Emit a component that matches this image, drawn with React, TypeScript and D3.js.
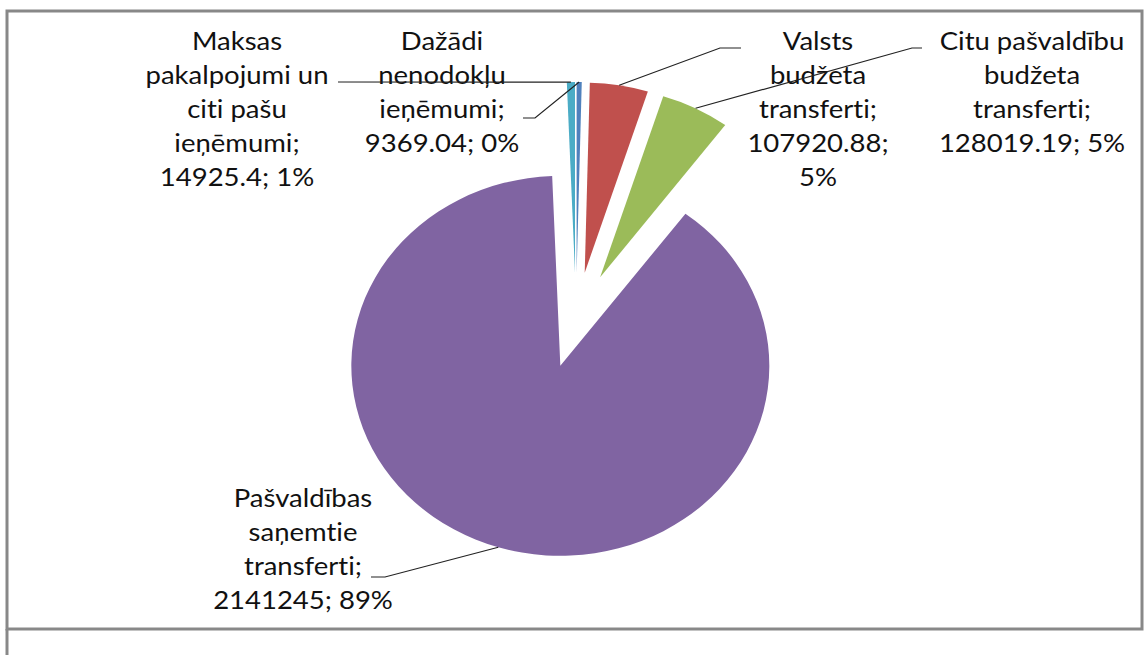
import React from "react";
import * as d3 from "d3";

// slice order follows the source workbook (Excel starts at 12 o'clock, clockwise)
const categories = [
  "Dažādi nenodokļu ieņēmumi",
  "Valsts budžeta transferti",
  "Citu pašvaldību budžeta transferti",
  "Pašvaldības saņemtie transferti",
  "Maksas pakalpojumi un citi pašu ieņēmumi",
];
const values = [9369.04, 107920.88, 128019.19, 2141245, 14925.4];
const colors = ["#4F81BD", "#C0504D", "#9BBB59", "#8064A2", "#4BACC6"];

// data label text, wrapped as in the picture
const labelLines = [
  ["Dažādi", "nenodokļu", "ieņēmumi;", "9369.04; 0%"],
  ["Valsts", "budžeta", "transferti;", "107920.88;", "5%"],
  ["Citu pašvaldību", "budžeta", "transferti;", "128019.19; 5%"],
  ["Pašvaldības", "saņemtie", "transferti;", "2141245; 89%"],
  ["Maksas", "pakalpojumi un", "citi pašu", "ieņēmumi;", "14925.4; 1%"],
];

// label placement (layout only)
const labelPos = [
  { x: 442, y: 50, leader: [[535, 118], [523, 118]] },
  { x: 818, y: 50, leader: [[720, 48], [741, 48]] },
  { x: 1032, y: 50, leader: [[912, 48], [922, 48]] },
  { x: 303, y: 507, leader: [[385, 577], [371, 577]] },
  { x: 237, y: 50, leader: [[338, 82]] },
];

const width = 1145;
const height = 655;
const cx = 576;
const cy = 320;
const radius = 190;
const explode = 48;
const stretch = 1.1; // pie is drawn a bit wider than tall
const lineHeight = 34;

export default function App() {
  const pie = d3.pie<number>().sort(null).startAngle(0).endAngle(2 * Math.PI)(values);
  const arc = d3.arc<d3.PieArcDatum<number>>().innerRadius(0).outerRadius(radius);

  const toScreen = (a: number, dist: number) => [
    cx + stretch * dist * Math.sin(a),
    cy - dist * Math.cos(a),
  ];

  const line = d3.line();

  return (
    <svg
      width={width}
      height={height}
      style={{ position: "absolute", left: 0, top: 0, background: "#fff", fontVariantLigatures: "none" }}
      fontFamily="Lato, 'Open Sans', sans-serif"
    >
      {/* chart frame */}
      <rect x={7} y={11} width={1135} height={618} fill="#fff" stroke="#888" strokeWidth={3} />
      <line x1={7} y1={629} x2={7} y2={655} stroke="#888" strokeWidth={3} />

      <g transform={`translate(${cx},${cy}) scale(${stretch},1)`}>
        {pie.map((d, i) => {
          const mid = (d.startAngle + d.endAngle) / 2;
          const dx = explode * Math.sin(mid);
          const dy = -explode * Math.cos(mid);
          return (
            <path
              key={i}
              d={arc(d) || ""}
              fill={colors[i]}
              transform={`translate(${dx},${dy})`}
            />
          );
        })}
      </g>

      {pie.map((d, i) => {
        const p = labelPos[i];
        return (
          <text
            key={"t" + i}
            transform={`translate(${p.x},${p.y}) scale(${stretch},1)`}
            textAnchor="middle"
            fontSize={25}
            fill="#111"
            style={{ fontVariantLigatures: "none", fontFeatureSettings: "'liga' 0, 'clig' 0" }}
          >
            {labelLines[i].map((s, j) => (
              <tspan key={j} x={0} y={j * lineHeight}>
                {s}
              </tspan>
            ))}
          </text>
        );
      })}

      {pie.map((d, i) => {
        const mid = (d.startAngle + d.endAngle) / 2;
        const start = toScreen(mid, radius + explode) as [number, number];
        const pts = [start, ...(labelPos[i].leader as [number, number][])];
        return (
          <path key={"l" + i} d={line(pts) || ""} fill="none" stroke="#222" strokeWidth={1.2} />
        );
      })}
    </svg>
  );
}
